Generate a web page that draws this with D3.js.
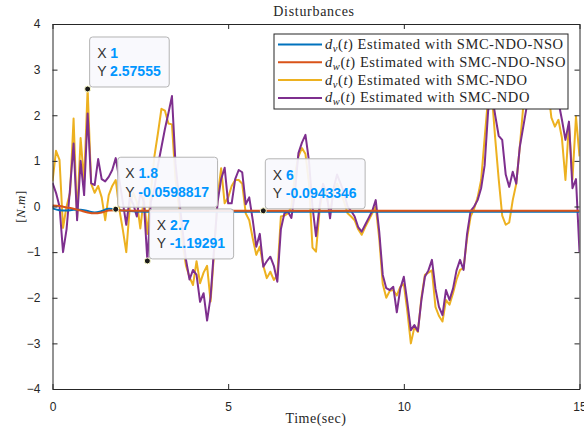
<!DOCTYPE html>
<html lang="en">
<head>
<meta charset="UTF-8">
<title>Disturbances</title>
<style>
  body { margin: 0; background: #fff; }
  text { fill: #262626; }
  .tick text { font-family: 'Liberation Sans', Arial, sans-serif; font-size: 12px; }
  .serif { font-family: 'Liberation Serif', 'DejaVu Serif', serif; }
  .tip { font-family: 'Liberation Sans', Arial, sans-serif; font-size: 14px; }
</style>
</head>
<body>
<div id="vis"></div>
<script src="https://d3js.org/d3.v7.min.js"></script>
<script>
// sample step of the noisy SMC-NDO estimates (s)
const dt = 0.1;

// d_v(t) estimated with SMC-NDO, one value every 0.1 s from 0 to 15
const dvNdo = [
  0.55, 1.22, 1.02, -0.47, 0.0, 0.3, 1.93, -0.25, 1.5, 0.55,
  2.58, 0.5, 0.3, 0.45, 0.2, -0.3, 0.25, 0.45, 0.58, -0.05,
  -0.5, -1.0, 0.0, 0.3, 0.1, -0.48, 0.2, -0.6, 0.3, 1.1,
  1.6, 2.14, 2.1, 1.82, 1.8, 0.6, 0.0, -0.8, -1.3, -1.55,
  -1.72, -1.2, -1.68, -1.45, -1.3, -2.08, -1.0, 0.2, 0.84, 0.07,
  0.2, 0.45, 0.58, 0.58, 0.5, -0.15, -0.3, -0.7, -1.06, -0.88,
  -1.3, -1.57, -1.43, -1.61, -1.5, -0.22, -0.2, -0.15, 0.0, 0.7,
  1.1, 1.28, 1.15, 0.5, -0.9, -0.99, -0.1, 0.4, 0.2, -0.1,
  0.3, 0.5, 0.3, 0.1, -0.15, -0.22, -0.3, -0.5, -0.62, -0.45,
  -0.3, -0.15, 0.0, -0.7, -1.7, -2.0, -1.85, -1.83, -1.95, -1.76,
  -1.7, -2.3, -3.0, -2.65, -2.75, -2.0, -1.5, -1.45, -1.4, -2.2,
  -2.4, -2.52, -2.05, -2.15, -1.9, -1.6, -1.39, -1.35, -0.7, -0.22,
  -0.05, 0.2, 0.58, 1.5, 2.4, 2.5, 1.5, 0.6, -0.2, -0.4,
  -0.35, 0.14, 0.5, 1.3, 2.2, 2.8, 3.2, 3.0, 3.4, 3.1,
  2.9, 2.6, 1.95, 1.75, 1.9, 1.5, 0.58, 1.82, 0.6, 1.97,
  1.1
];

// d_w(t) estimated with SMC-NDO, same sampling
const dwNdo = [
  0.52, 0.3, 0.0, -1.0, -0.5, 0.4, 1.38, -0.3, 1.0, 0.25,
  2.04, 0.51, 0.47, 1.04, 0.6, 0.55, 0.65, 0.8, 1.06, 0.6,
  0.1, -0.4, 0.2, 0.05, -0.22, 0.3, 0.1, -1.19, 0.1, 0.4,
  0.9, 1.3, 1.7, 2.05, 2.42, 0.95, 0.2, -0.5, -1.17, -1.6,
  -1.39, -1.5, -2.09, -1.9, -2.5, -1.98, -0.9, 0.1, 0.6, 0.85,
  0.07, 0.07, 0.6, 0.8, 0.75, 0.05, 0.2, -0.3, -0.88, -0.6,
  -1.32, -1.2, -1.1, -1.3, -1.65, -0.5, -0.15, -0.11, -0.25, 0.3,
  1.17, 1.4, 1.57, 1.0, 0.0, -0.65, 0.0, 0.5, 0.3, -0.26,
  0.4, 0.7, 0.5, 0.3, 0.0, -0.1, -0.22, -0.45, -0.55, -0.4,
  -0.25, -0.1, 0.14, -0.55, -1.5, -1.79, -1.83, -1.76, -2.32, -1.8,
  -1.54, -2.1, -2.71, -2.6, -2.73, -2.05, -1.54, -1.4, -1.17, -1.8,
  -2.2, -2.38, -1.83, -2.05, -1.8, -1.4, -1.17, -1.39, -0.6, -0.1,
  0.0, 0.14, 0.4, 0.9, 2.1, 2.5, 2.0, 1.55, 1.46, 0.7,
  0.43, 0.76, 0.5, 1.3, 1.75, 2.2, 2.7, 3.0, 3.3, 3.0,
  3.2, 2.9, 2.7, 2.5, 2.3, 1.9, 1.46, 1.86, 0.4, 0.6,
  -1.0
];

// SMC-NDO-NSO estimates are smooth: read at a few times only
const nsoTime = [0, 0.2, 0.4, 0.6, 0.8, 1.0, 1.2, 1.4, 1.6, 1.8, 2.0, 2.4, 3.0, 15];
const dvNso = [-0.04, -0.08, -0.09, -0.07, -0.07, -0.1, -0.13, -0.1, -0.05, -0.06, -0.09, -0.11, -0.115, -0.115];
const dwNso = [0.02, 0.01, -0.02, -0.05, -0.09, -0.13, -0.15, -0.13, -0.09, -0.08, -0.085, -0.094, -0.094, -0.094];

// data tips
const tipX = [1, 1.8, 2.7, 6];
const tipY = [2.57555, -0.0598817, -1.19291, -0.0943346];
const tipXLabel = ["1", "1.8", "2.7", "6"];
const tipYLabel = ["2.57555", "-0.0598817", "-1.19291", "-0.0943346"];

const xTicks = [0, 5, 10, 15];
const yTicks = [-4, -3, -2, -1, 0, 1, 2, 3, 4];

const seriesNames = [
  { sub: "v", rest: " Estimated with SMC-NDO-NSO" },
  { sub: "w", rest: " Estimated with SMC-NDO-NSO" },
  { sub: "v", rest: " Estimated with SMC-NDO" },
  { sub: "w", rest: " Estimated with SMC-NDO" }
];
const colors = ["#0072BD", "#D95319", "#EDB120", "#7E2F8E"];

const width = 584;
const height = 431;
const padLeft = 52.5, padRight = 579.5, padTop = 24, padBottom = 389;

let svg = d3.select("#vis").append("svg")
    .attr("width", width)
    .attr("height", height);

let xScale = d3.scaleLinear().domain([0, 15]).range([padLeft, padRight]);
let yScale = d3.scaleLinear().domain([-4, 4]).range([padBottom, padTop]);

svg.append("clipPath").attr("id", "clip")
  .append("rect")
    .attr("x", padLeft).attr("y", padTop)
    .attr("width", padRight - padLeft).attr("height", padBottom - padTop);

// axes with inward ticks, box on all sides
let axisStyle = function(g) {
  g.select(".domain").attr("stroke", "#262626").attr("stroke-width", 1);
  g.selectAll(".tick line").attr("stroke", "#262626");
  g.selectAll(".tick text").attr("fill", "#262626");
};

// lines
let line = d3.line()
    .x(function(d){ return xScale(d[0]); })
    .y(function(d){ return yScale(d[1]); });
let smooth = d3.line()
    .x(function(d){ return xScale(d[0]); })
    .y(function(d){ return yScale(d[1]); })
    .curve(d3.curveMonotoneX);

let plot = svg.append("g").attr("clip-path", "url(#clip)");

let ndoPoints = function(values) {
  return values.map(function(v, i){ return [i * dt, v]; });
};
let nsoPoints = function(values) {
  return values.map(function(v, i){ return [nsoTime[i], v]; });
};

plot.append("path").datum(ndoPoints(dvNdo))
    .attr("d", line).attr("fill", "none")
    .attr("stroke", colors[2]).attr("stroke-width", 2).attr("stroke-linejoin", "round");
plot.append("path").datum(ndoPoints(dwNdo))
    .attr("d", line).attr("fill", "none")
    .attr("stroke", colors[3]).attr("stroke-width", 2).attr("stroke-linejoin", "round");
plot.append("path").datum(nsoPoints(dvNso))
    .attr("d", smooth).attr("fill", "none")
    .attr("stroke", colors[0]).attr("stroke-width", 2);
plot.append("path").datum(nsoPoints(dwNso))
    .attr("d", smooth).attr("fill", "none")
    .attr("stroke", colors[1]).attr("stroke-width", 2);

svg.append("g")
    .attr("transform", "translate(0," + padBottom + ")")
    .call(d3.axisBottom(xScale).tickValues(xTicks).tickSizeInner(-5).tickSizeOuter(0).tickPadding(13))
    .call(axisStyle);
svg.append("g")
    .attr("transform", "translate(0," + padTop + ")")
    .call(d3.axisTop(xScale).tickValues(xTicks).tickSizeInner(-5).tickSizeOuter(0).tickFormat(""))
    .call(axisStyle);
svg.append("g")
    .attr("transform", "translate(" + padLeft + ",0)")
    .call(d3.axisLeft(yScale).tickValues(yTicks).tickSizeInner(-5).tickSizeOuter(0).tickPadding(12))
    .call(axisStyle);
svg.append("g")
    .attr("transform", "translate(" + padRight + ",0)")
    .call(d3.axisRight(yScale).tickValues(yTicks).tickSizeInner(-5).tickSizeOuter(0).tickFormat(""))
    .call(axisStyle);

// title and axis labels
svg.append("text")
    .attr("class", "serif")
    .attr("x", (padLeft + padRight) / 2 - 2).attr("y", 16)
    .attr("text-anchor", "middle")
    .style("font-size", "14px").style("letter-spacing", "0.7px")
    .text("Disturbances");

svg.append("text")
    .attr("class", "serif")
    .attr("x", (padLeft + padRight) / 2).attr("y", 423)
    .attr("text-anchor", "middle")
    .style("font-size", "14px").style("letter-spacing", "0.5px")
    .text("Time(sec)");

let ylab = svg.append("text")
    .attr("class", "serif")
    .attr("transform", "translate(25," + yScale(0) + ") rotate(-90)")
    .attr("text-anchor", "middle")
    .style("font-size", "13px").style("letter-spacing", "0.5px");
ylab.append("tspan").text("[");
ylab.append("tspan").style("font-style", "italic").text("N");
ylab.append("tspan").text(".");
ylab.append("tspan").style("font-style", "italic").text("m");
ylab.append("tspan").text("]");

// legend
let legend = svg.append("g").attr("transform", "translate(274,34)");
legend.append("rect")
    .attr("width", 294).attr("height", 75)
    .attr("fill", "#fff").attr("stroke", "#262626").attr("stroke-width", 1);

seriesNames.forEach(function(s, i){
  let ly = 10.5 + i * 17.8;
  legend.append("line")
      .attr("x1", 4).attr("x2", 48).attr("y1", ly).attr("y2", ly)
      .attr("stroke", colors[i]).attr("stroke-width", 2);
  let t = legend.append("text")
      .attr("class", "serif")
      .attr("x", 51).attr("y", ly + 4.5)
      .style("font-size", "14.5px").style("letter-spacing", "0.55px");
  t.append("tspan").style("font-style", "italic").text("d");
  t.append("tspan").style("font-style", "italic").style("font-size", "10.5px")
      .attr("dy", 3).text(s.sub);
  t.append("tspan").attr("dy", -3).text("(");
  t.append("tspan").style("font-style", "italic").text("t");
  t.append("tspan").text(")" + s.rest);
});

// data tips
tipX.forEach(function(tx, i){
  let mx = xScale(tx), my = yScale(tipY[i]);
  let g = svg.append("g").attr("transform", "translate(" + (mx + 2) + "," + (my - 52) + ")");
  let box = g.append("rect")
      .attr("height", 50).attr("rx", 3)
      .attr("fill", "#F9F9FD").attr("fill-opacity", 0.92)
      .attr("stroke", "#B4B4B4").attr("stroke-width", 1);
  let l1 = g.append("text").attr("class", "tip").attr("x", 7.5).attr("y", 21);
  l1.append("tspan").attr("fill", "#333").text("X ");
  l1.append("tspan").attr("fill", "#0096FF").style("font-weight", "bold").text(tipXLabel[i]);
  let l2 = g.append("text").attr("class", "tip").attr("x", 7.5).attr("y", 39.5);
  l2.append("tspan").attr("fill", "#333").text("Y ");
  l2.append("tspan").attr("fill", "#0096FF").style("font-weight", "bold").text(tipYLabel[i]);
  let w = Math.max(l1.node().getComputedTextLength(), l2.node().getComputedTextLength());
  box.attr("width", w + 16);
  svg.append("circle")
      .attr("cx", mx).attr("cy", my).attr("r", 3)
      .attr("fill", "#1a1a1a").attr("stroke", "#FFFFD0").attr("stroke-width", 1);
});
</script>
</body>
</html>
